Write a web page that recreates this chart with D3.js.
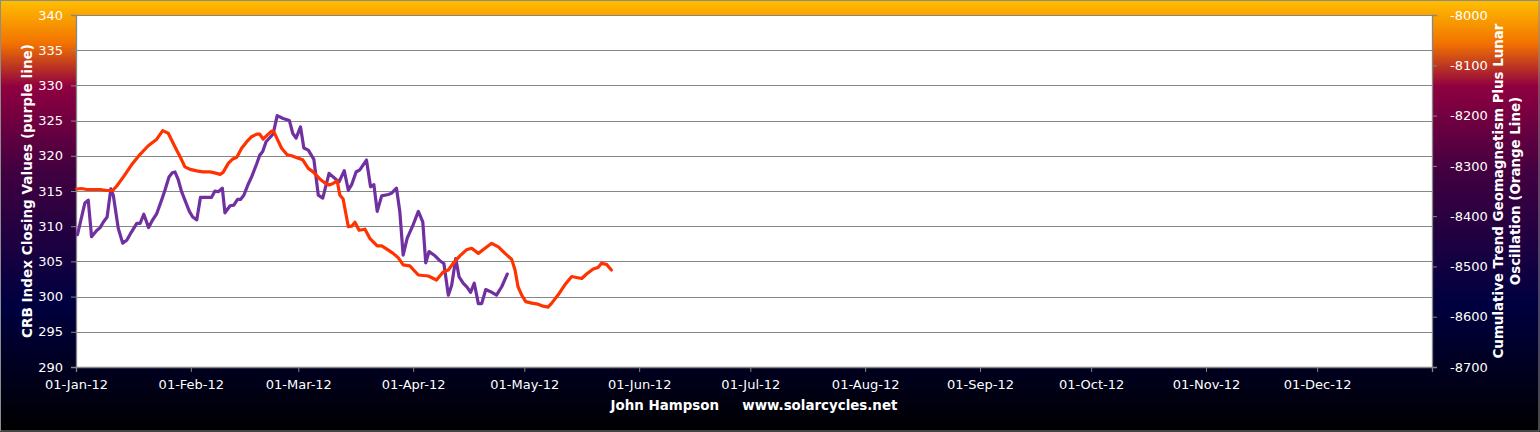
<!DOCTYPE html>
<html>
<head>
<meta charset="utf-8">
<script src="https://cdn.jsdelivr.net/npm/d3@7"></script>
<style>
  html, body { margin: 0; padding: 0; background: #000; }
  svg { display: block; }
  text { font-family: "DejaVu Sans", Verdana, sans-serif; fill: #fff; }
</style>
</head>
<body>
<svg id="chart" width="1540" height="432"></svg>
<script>
// ---- Data (days since 01-Jan-2012) ----
const crbDays = [0.4,2.4,3.3,4.2,5.6,6.5,7.4,8.4,9.4,10.1,11.4,12.6,13.7,15.0,16.4,17.3,18.3,19.6,20.7,21.8,
  23.1,24.0,25.1,26.0,26.7,27.6,28.5,29.4,30.6,31.5,32.6,33.6,34.8,36.6,37.5,38.4,39.5,40.2,41.6,42.6,
  43.6,44.4,45.3,46.5,47.4,48.8,49.6,50.4,51.3,53.2,54.3,55.9,57.6,58.5,59.4,60.6,61.5,62.7,64.2,65.4,
  66.6,68.3,70.3,71.0,72.4,73.5,74.4,75.6,76.6,78.4,79.5,80.4,81.3,82.5,84.3,85.2,86.5,87.4,88.3,89.4,
  91.0,92.4,93.6,94.4,95.3,96.9,98.2,99.3,100.5,101.4,102.5,103.4,104.5,105.6,106.5,107.5,108.6,109.5,110.6,111.9,
  113.5,114.9,116.4];
const crbValues = [308.8,313.3,313.7,308.5,309.4,309.8,310.6,311.3,315.3,314.3,309.7,307.6,308.0,309.2,310.4,310.4,311.7,309.8,310.9,311.8,
  313.7,315.1,317.0,317.6,317.7,316.6,314.9,313.7,312.1,311.3,310.9,314.1,314.1,314.1,315.0,314.9,315.4,311.9,312.9,313.0,
  313.8,313.8,314.4,316.0,317.0,318.9,320.1,320.6,322.0,323.1,325.7,325.3,325.0,323.2,322.5,324.1,321.1,320.8,319.5,314.4,
  314.0,317.5,316.6,316.3,317.9,315.1,315.9,317.7,318.0,319.4,315.6,315.9,312.1,314.3,314.5,314.7,315.4,312.1,305.9,308.3,
  310.2,312.1,310.6,304.8,306.4,305.8,305.1,304.7,300.2,301.6,305.4,302.8,301.9,301.3,300.6,301.9,299.0,299.0,301.0,300.7,
  300.2,301.4,303.2];

const geoDays = [0.2,1.5,2.9,6.5,8.3,9.9,11.0,12.8,15.0,17.3,19.5,21.8,23.4,24.9,26.7,28.1,29.4,30.8,32.6,34.3,
  36.2,38.0,38.9,39.7,41.1,42.2,43.4,44.7,46.1,47.4,48.8,49.6,50.5,51.6,52.8,53.4,54.2,55.5,57.0,58.2,
  59.6,61.2,62.7,64.0,65.8,67.2,68.3,69.4,70.5,71.2,72.1,73.5,74.4,75.3,76.4,78.0,79.3,81.3,82.5,83.8,
  85.6,87.0,88.3,90.1,92.4,95.1,97.3,99.1,100.5,101.8,103.6,105.4,106.8,108.6,110.4,112.2,114.0,115.8,117.6,118.5,
  119.3,120.3,121.4,123.0,124.7,126.1,127.4,128.4,130.1,131.9,133.8,135.1,136.5,137.8,139.6,140.9,141.8,143.2,144.5];
const geoValues = [-8346,-8345,-8347,-8347,-8349,-8349,-8340,-8322,-8298,-8277,-8260,-8247,-8230,-8235,-8262,-8282,-8302,-8307,-8310,-8312,
  -8312,-8315,-8317,-8313,-8295,-8287,-8283,-8265,-8252,-8242,-8237,-8237,-8247,-8239,-8231,-8232,-8245,-8265,-8278,-8280,
  -8284,-8288,-8305,-8312,-8326,-8334,-8338,-8335,-8330,-8358,-8366,-8421,-8420,-8412,-8428,-8426,-8444,-8459,-8459,-8465,
  -8474,-8483,-8497,-8499,-8517,-8519,-8527,-8511,-8507,-8494,-8479,-8467,-8464,-8474,-8464,-8454,-8461,-8474,-8486,-8507,
  -8540,-8557,-8570,-8573,-8575,-8579,-8581,-8573,-8557,-8537,-8520,-8522,-8524,-8515,-8505,-8502,-8494,-8496,-8507];

const leftTicks = [290,295,300,305,310,315,320,325,330,335,340];
const rightTicks = [-8700,-8600,-8500,-8400,-8300,-8200,-8100,-8000];
const xDomain = ["2012-01-01","2013-01-01"];
const leftTitle = "CRB Index Closing Values (purple line)";
const rightTitle = ["Cumulative Trend Geomagnetism Plus Lunar", "Oscillation (Orange Line)"];
const bottomTitle = "John Hampson     www.solarcycles.net";

// ---- Drawing ----
const W = 1540, H = 432;
const plot = {left: 76, right: 1432, top: 15, bottom: 367};
const svg = d3.select("#chart");
const day0 = Date.UTC(2012, 0, 1);
const toDate = d => new Date(day0 + d * 864e5);

const defs = svg.append("defs");
const grad = defs.append("linearGradient").attr("id", "bg")
  .attr("x1", 0).attr("y1", 0).attr("x2", 0).attr("y2", 1);
[[0, "#FFBF00"], [0.1, "#F27300"], [0.2, "#8F0040"], [0.4, "#400040"], [0.7, "#000040"], [1, "#000000"]]
  .forEach(([o, c]) => grad.append("stop").attr("offset", o).attr("stop-color", c));

svg.append("rect").attr("x", 0).attr("y", 0).attr("width", W).attr("height", H).attr("fill", "url(#bg)");
svg.append("rect").attr("x", 0.5).attr("y", 0.5).attr("width", W - 1.5).attr("height", H - 1.5)
  .attr("fill", "none").attr("stroke", "#8c8c8c");

svg.append("rect").attr("x", plot.left).attr("y", plot.top)
  .attr("width", plot.right - plot.left).attr("height", plot.bottom - plot.top).attr("fill", "#fff");

const x = d3.scaleUtc().domain(xDomain.map(s => new Date(s + "T00:00:00Z"))).range([plot.left, plot.right]);
const yL = d3.scaleLinear().domain([290, 340]).range([plot.bottom, plot.top]);
const yR = d3.scaleLinear().domain([-8700, -8000]).range([plot.bottom, plot.top]);

// gridlines
svg.append("g").selectAll("line").data(leftTicks.filter(t => t > 290)).join("line")
  .attr("x1", plot.left).attr("x2", plot.right)
  .attr("y1", d => Math.round(yL(d)) + 0.5).attr("y2", d => Math.round(yL(d)) + 0.5)
  .attr("stroke", "#868686").attr("stroke-width", 1);

// axes
const fmt = d3.utcFormat("%d-%b-%y");
const xAxis = d3.axisBottom(x).ticks(d3.utcMonth.every(1)).tickSize(5).tickPadding(8)
  .tickFormat(d => d.getUTCFullYear() === 2013 ? "" : fmt(d));
const gx = svg.append("g").attr("transform", `translate(0,${plot.bottom})`).call(xAxis);

const gl = svg.append("g").attr("transform", `translate(${plot.left},0)`)
  .call(d3.axisLeft(yL).tickValues(leftTicks).tickSize(5).tickPadding(8).tickFormat(d3.format("d")));
const gr = svg.append("g").attr("transform", `translate(${plot.right},0)`)
  .call(d3.axisRight(yR).tickValues(rightTicks).tickSize(5).tickPadding(13).tickFormat(d => String(d).replace("−", "-")));

[gx, gl, gr].forEach(g => {
  g.select(".domain").attr("stroke", "#868686").attr("stroke-width", 1.3);
  g.selectAll(".tick line").attr("stroke", "#868686");
  g.selectAll(".tick text").attr("fill", "#fff").style("font-size", "13px")
    .style("font-family", '"DejaVu Sans", Verdana, sans-serif');
});

// series
const lineL = d3.line().x((d, i) => x(toDate(crbDays[i]))).y(d => yL(d));
const lineR = d3.line().x((d, i) => x(toDate(geoDays[i]))).y(d => yR(d));

svg.append("path").datum(crbValues).attr("d", lineL)
  .attr("fill", "none").attr("stroke", "#7030A0").attr("stroke-width", 3.2)
  .attr("stroke-linejoin", "round").attr("stroke-linecap", "round");
svg.append("path").datum(geoValues).attr("d", lineR)
  .attr("fill", "none").attr("stroke", "#FF3300").attr("stroke-width", 3.2)
  .attr("stroke-linejoin", "round").attr("stroke-linecap", "round");

// titles
const cy = (plot.top + plot.bottom) / 2;
svg.append("text").attr("transform", `translate(32,${cy}) rotate(-90)`)
  .attr("text-anchor", "middle").style("font-size", "13.6px").style("font-weight", "bold")
  .text(leftTitle);
rightTitle.forEach((t, i) => {
  svg.append("text").attr("transform", `translate(${1503 + i * 17},${cy}) rotate(-90)`)
    .attr("text-anchor", "middle").style("font-size", "13.4px").style("font-weight", "bold")
    .text(t);
});
svg.append("text").attr("x", (plot.left + plot.right) / 2).attr("y", 410)
  .attr("text-anchor", "middle").style("font-size", "13.4px").style("font-weight", "bold")
  .style("white-space", "pre").attr("xml:space", "preserve")
  .text(bottomTitle);
</script>
</body>
</html>
